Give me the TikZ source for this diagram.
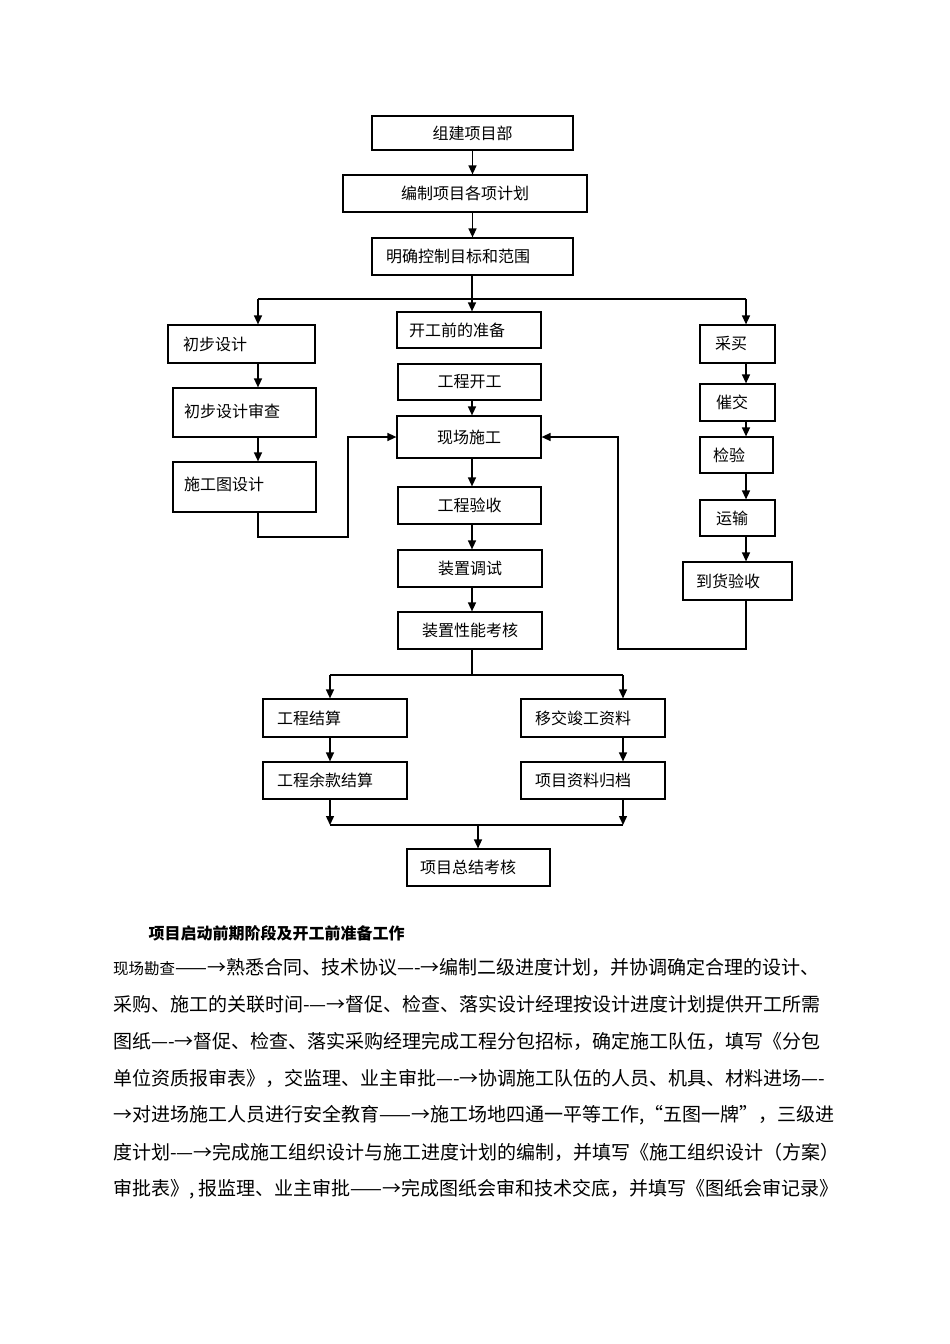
\documentclass[tikz,border=0pt]{standalone}
\usepackage{fontspec}
\setmainfont{Noto Sans CJK SC}
\usetikzlibrary{arrows.meta, positioning, calc}

\begin{document}
\begin{tikzpicture}[x=1pt, y=-1pt, >={Triangle[length=9pt,width=8pt]},
	box/.style={draw, line width=1.2pt, inner sep=0pt, font=\fontsize{16}{19}\selectfont},
	lbox/.style={box, align=left, text width=#1},
	link/.style={line width=1.4pt}]
	\useasboundingbox (0,0) rectangle (950,1344);
	\node[box, minimum width=201pt, minimum height=34pt] (zj) at (472.5,133) {组建项目部};
	\node[box, minimum width=244pt, minimum height=37pt] (bz) at (465,193.5) {编制项目各项计划};
	\node[lbox=173pt, minimum width=201pt, minimum height=37pt] (mq) at (472.5,256.5) {明确控制目标和范围};
	\node[lbox=117pt, minimum width=147pt, minimum height=38pt] (cb) at (241.5,344) {初步设计};
	\node[lbox=120pt, minimum width=144pt, minimum height=36pt] (kq) at (469,330) {开工前的准备};
	\node[lbox=45pt, minimum width=75pt, minimum height=38pt] (cm) at (737.5,344) {采买};
	\node[lbox=121pt, minimum width=143pt, minimum height=49pt] (cs) at (244.5,412.5) {\raisebox{3pt}{初步设计审查}};
	\node[lbox=121pt, minimum width=143pt, minimum height=50pt] (st) at (244.5,487) {\raisebox{6pt}{施工图设计}};
	\node[box, minimum width=143pt, minimum height=36pt] (kg) at (469.5,382) {工程开工};
	\node[box, minimum width=144pt, minimum height=42pt] (xc) at (469,437) {现场施工};
	\node[box, minimum width=143pt, minimum height=37pt] (ys) at (469.5,505.5) {工程验收};
	\node[box, minimum width=144pt, minimum height=37pt] (ts) at (470,568.5) {装置调试};
	\node[box, minimum width=144pt, minimum height=37pt] (kh) at (470,630.5) {装置性能考核};
	\node[lbox=43pt, minimum width=75pt, minimum height=37pt] (cj) at (737.5,402.5) {催交};
	\node[lbox=47pt, minimum width=73pt, minimum height=36pt] (jy) at (736.5,455) {检验};
	\node[lbox=43pt, minimum width=75pt, minimum height=36pt] (yx) at (737.5,518) {运输};
	\node[lbox=83pt, minimum width=109pt, minimum height=38pt] (dh) at (737.5,581) {到货验收};
	\node[lbox=116pt, minimum width=144pt, minimum height=38pt] (js) at (335,718) {工程结算};
	\node[lbox=116pt, minimum width=144pt, minimum height=38pt] (yj) at (593,718) {移交竣工资料};
	\node[lbox=116pt, minimum width=144pt, minimum height=37pt] (yk) at (335,780.5) {工程余款结算};
	\node[lbox=116pt, minimum width=144pt, minimum height=37pt] (gd) at (593,780.5) {项目资料归档};
	\node[lbox=117pt, minimum width=143pt, minimum height=37pt] (zk) at (478.5,867.5) {项目总结考核};
	\coordinate (bl) at (258,299);
	\coordinate (bm) at (472,299);
	\coordinate (br) at (746,299);
	\coordinate (lf) at (348,537);
	\coordinate (rf) at (618,649);
	\coordinate (sl) at (330,675);
	\coordinate (sm) at (472,675);
	\coordinate (sr) at (623,675);
	\coordinate (el) at (330,825);
	\coordinate (em) at (478,825);
	\coordinate (er) at (623,825);
	\draw[link, ->] (zj.south) -- (zj.south |- bz.north);
	\draw[link, ->] (zj.south |- bz.south) -- (zj.south |- mq.north);
	\draw[link, ->] (mq.south -| bm) -- (bm |- kq.north);
	\draw[link] (bl) -- (br);
	\draw[link, ->] (bl) -- (bl |- cb.north);
	\draw[link, ->] (br) -- (br |- cm.north);
	\draw[link, ->] (bl |- cb.south) -- (bl |- cs.north);
	\draw[link, ->] (bl |- cs.south) -- (bl |- st.north);
	\draw[link, ->] (bl |- st.south) |- (lf) |- (xc.west);
	\draw[link, ->] (kg.south -| bm) -- (bm |- xc.north);
	\draw[link, ->] (bm |- xc.south) -- (bm |- ys.north);
	\draw[link, ->] (bm |- ys.south) -- (bm |- ts.north);
	\draw[link, ->] (bm |- ts.south) -- (bm |- kh.north);
	\draw[link, ->] (br |- cm.south) -- (br |- cj.north);
	\draw[link, ->] (br |- cj.south) -- (br |- jy.north);
	\draw[link, ->] (br |- jy.south) -- (br |- yx.north);
	\draw[link, ->] (br |- yx.south) -- (br |- dh.north);
	\draw[link, ->] (br |- dh.south) |- (rf) |- (xc.east);
	\draw[link] (bm |- kh.south) -- (sm);
	\draw[link] (sl) -- (sr);
	\draw[link, ->] (sl) -- (sl |- js.north);
	\draw[link, ->] (sr) -- (sr |- yj.north);
	\draw[link, ->] (sl |- js.south) -- (sl |- yk.north);
	\draw[link, ->] (sr |- yj.south) -- (sr |- gd.north);
	\draw[link, ->] (sl |- yk.south) -- (el);
	\draw[link, ->] (sr |- gd.south) -- (er);
	\draw[link] (el) -- (er);
	\draw[link, ->] (em) -- (em |- zk.north);
	\node[anchor=west, font=\fontsize{16}{19}\selectfont\bfseries] (tt) at (145,933) {项目启动前期阶段及开工前准备工作};
	\node[anchor=west, inner sep=0pt, font=\fontsize{19}{22}\selectfont] (p1) at (113,967) {{\fontsize{15.5}{18}\selectfont 现场勘查}——→熟悉合同、技术协议—-→编制二级进度计划，并协调确定合理的设计、};
	\node[anchor=west, inner sep=0pt, font=\fontsize{19}{22}\selectfont] (p2) at (113,1004) {采购、施工的关联时间-—→督促、检查、落实设计经理按设计进度计划提供开工所需};
	\node[anchor=west, inner sep=0pt, font=\fontsize{19}{22}\selectfont] (p3) at (113,1041) {图纸—-→督促、检查、落实采购经理完成工程分包招标，确定施工队伍，填写《分包};
	\node[anchor=west, inner sep=0pt, font=\fontsize{19}{22}\selectfont] (p4) at (113,1078) {单位资质报审表》，交监理、业主审批—-→协调施工队伍的人员、机具、材料进场—-};
	\node[anchor=west, inner sep=0pt, font=\fontsize{19}{22}\selectfont] (p5) at (113,1115) {→对进场施工人员进行安全教育——→施工场地四通一平等工作,“五图一牌”，三级进};
	\node[anchor=west, inner sep=0pt, font=\fontsize{19}{22}\selectfont] (p6) at (113,1152) {度计划-—→完成施工组织设计与施工进度计划的编制，并填写《施工组织设计（方案）};
	\node[anchor=west, inner sep=0pt, font=\fontsize{19}{22}\selectfont] (p7) at (113,1189) {审批表》, 报监理、业主审批——→完成图纸会审和技术交底，并填写《图纸会审记录》};
\end{tikzpicture}
\end{document}
